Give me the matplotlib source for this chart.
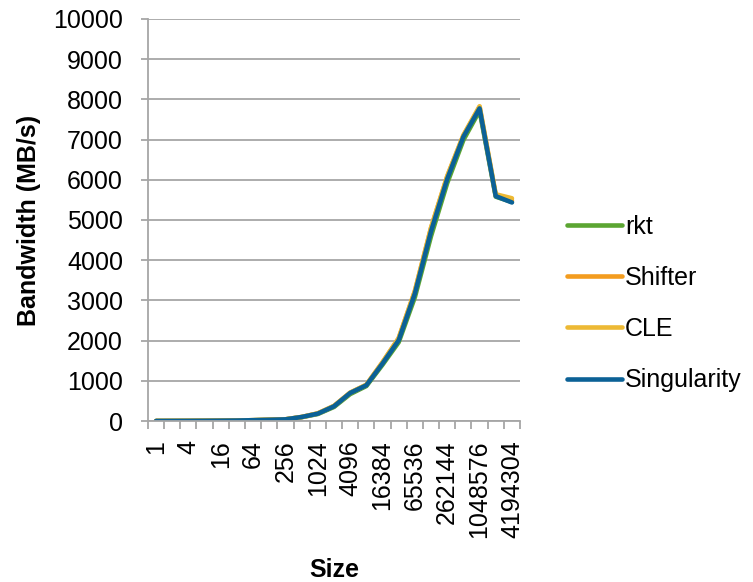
import matplotlib
matplotlib.use("Agg")
import matplotlib.pyplot as plt
from matplotlib.ticker import FixedLocator, NullFormatter

plt.rcParams['font.family'] = ['Liberation Sans', 'DejaVu Sans']

sizes = [1, 2, 4, 8, 16, 32, 64, 128, 256, 512, 1024, 2048, 4096, 8192,
         16384, 32768, 65536, 131072, 262144, 524288, 1048576, 2097152, 4194304]
rkt = [1, 2, 3, 5, 8, 12, 20, 30, 40, 95, 175, 350, 670, 870,
       1400, 1960, 3080, 4600, 5920, 6990, 7720, 5580, 5450]
shifter = [1, 2, 3, 5, 8, 12, 20, 30, 42, 100, 190, 375, 705, 900,
           1460, 2060, 3230, 4800, 6080, 7100, 7810, 5610, 5490]
cle = [1, 2, 3, 5, 8, 12, 20, 30, 42, 100, 190, 375, 705, 900,
       1460, 2060, 3230, 4810, 6090, 7110, 7830, 5640, 5540]
singularity = [1, 2, 3, 5, 8, 12, 20, 30, 41, 100, 183, 365, 697, 888,
               1430, 2010, 3170, 4720, 6020, 7070, 7775, 5593, 5436]
series_names = ['rkt', 'Shifter', 'CLE', 'Singularity']
series_values = [rkt, shifter, cle, singularity]
colors = ['#5BA532', '#F39C1F', '#EDB934', '#0B6196']
yticks = list(range(0, 10001, 1000))

FS = 18
fig = plt.figure(figsize=(7.53, 5.82), dpi=100)
ax = fig.add_axes([0.1965, 0.2766, 0.4941, 0.6908])

x = list(range(len(sizes)))
handles = []
for name, vals, c in zip(series_names, series_values, colors):
    h, = ax.plot(x, vals, color=c, linewidth=3.3, solid_joinstyle='round',
                 solid_capstyle='round', label=name)
    handles.append(h)

ax.set_xlim(-0.5, len(sizes) - 0.5)
ax.set_ylim(0, 10000)
ax.set_yticks(yticks)
ax.set_yticklabels([str(v) for v in yticks], fontsize=FS)
ax.yaxis.grid(True, color='#A6A6A6', linewidth=1.3)
ax.set_axisbelow(True)

ax.set_xticks(x[::2])
ax.set_xticklabels([str(s) for s in sizes[::2]], rotation=90, fontsize=FS)
ax.tick_params(axis='x', which='major', length=0, pad=14)
ax.xaxis.set_minor_locator(FixedLocator([i - 0.5 for i in range(len(sizes) + 1)]))
ax.xaxis.set_minor_formatter(NullFormatter())
ax.tick_params(axis='x', which='minor', length=6, color='#A6A6A6', width=1.3)
ax.tick_params(axis='y', length=5, color='#A6A6A6', width=1.3, pad=13)

for s in ['top', 'right']:
    ax.spines[s].set_visible(False)
for s in ['left', 'bottom']:
    ax.spines[s].set_color('#A6A6A6')
    ax.spines[s].set_linewidth(1.3)

ax.set_ylabel('Bandwidth (MB/s)', fontsize=FS, fontweight='bold')
ax.yaxis.set_label_coords(-0.288, 0.5)
ax.set_xlabel('Size', fontsize=FS, fontweight='bold')
ax.xaxis.set_label_coords(0.5, -0.341)

fig.legend(handles=handles, loc='center left', bbox_to_anchor=(0.753, 0.4785),
           frameon=False, fontsize=FS, labelspacing=1.09, handlelength=2.2,
           handletextpad=0.12, borderpad=0, borderaxespad=0)

fig.savefig('out.png', dpi=100)
